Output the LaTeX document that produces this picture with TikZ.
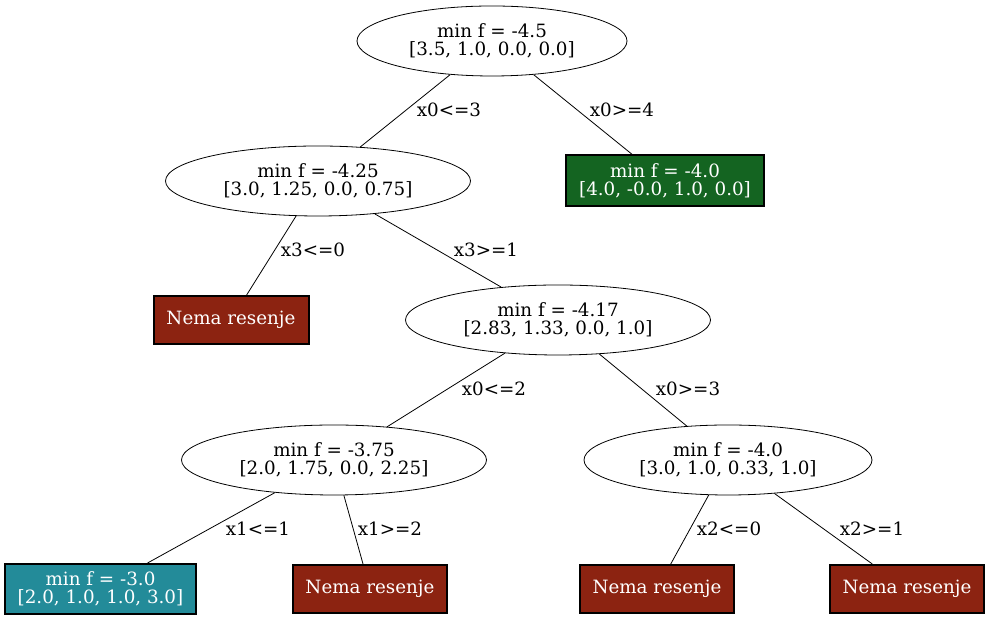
\documentclass[tikz,border=0pt]{standalone}
\usepackage{fontspec}
\usetikzlibrary{shapes.geometric}
\newfontfamily\dvs{DejaVu Serif}
\definecolor{nored}{RGB}{140,35,17}
\definecolor{okgreen}{RGB}{20,100,33}
\definecolor{okteal}{RGB}{35,139,153}
\tikzset{
  txt/.style={font=\dvs\fontsize{18.3}{18.5}\selectfont, align=center},
  ell/.style={txt, ellipse, draw, line width=0.8pt, minimum height=70pt, inner sep=0pt},
  box/.style={txt, rectangle, draw, line width=2pt, text=white, inner sep=0pt},
  lbl/.style={txt, inner sep=0pt},
  edge/.style={line width=0.8pt}
}
\begin{document}
\begin{tikzpicture}[x=1pt,y=1pt]
\useasboundingbox (0,0) rectangle (991,620);
\node[ell, minimum width=270pt] (root) at (492,579) {min f = -4.5\\{}[3.5, 1.0, 0.0, 0.0]};
\node[ell, minimum width=305pt] (n1) at (318,439) {min f = -4.25\\{}[3.0, 1.25, 0.0, 0.75]};
\node[box, fill=okgreen, minimum width=198pt, minimum height=51pt] (g1) at (665,439) {min f = -4.0\\{}[4.0, -0.0, 1.0, 0.0]};
\node[box, fill=nored, minimum width=155pt, minimum height=48pt] (r1) at (231,300) {Nema resenje};
\node[ell, minimum width=305pt] (n2) at (558,300) {min f = -4.17\\{}[2.83, 1.33, 0.0, 1.0]};
\node[ell, minimum width=305pt] (n3) at (334,160) {min f = -3.75\\{}[2.0, 1.75, 0.0, 2.25]};
\node[ell, minimum width=288pt] (n4) at (728,160) {min f = -4.0\\{}[3.0, 1.0, 0.33, 1.0]};
\node[box, fill=okteal, minimum width=191pt, minimum height=50pt] (t1) at (100.5,31) {min f = -3.0\\{}[2.0, 1.0, 1.0, 3.0]};
\node[box, fill=nored, minimum width=154pt, minimum height=48pt] (r2) at (370,31) {Nema resenje};
\node[box, fill=nored, minimum width=154pt, minimum height=48pt] (r3) at (657,31) {Nema resenje};
\node[box, fill=nored, minimum width=154pt, minimum height=48pt] (r4) at (907,31) {Nema resenje};
\draw[edge] (root) -- (n1);
\draw[edge] (root) -- (g1);
\draw[edge] (n1) -- (r1);
\draw[edge] (n1) -- (n2);
\draw[edge] (n2) -- (n3);
\draw[edge] (n2) -- (n4);
\draw[edge] (n3) -- (t1);
\draw[edge] (n3) -- (r2);
\draw[edge] (n4) -- (r3);
\draw[edge] (n4) -- (r4);
\node[lbl] (l1) at (449,510) {x0<=3};
\node[lbl] (l2) at (622,510) {x0>=4};
\node[lbl] (l3) at (313,370) {x3<=0};
\node[lbl] (l4) at (486,370) {x3>=1};
\node[lbl] (l5) at (494,231) {x0<=2};
\node[lbl] (l6) at (688,231) {x0>=3};
\node[lbl] (l7) at (258,91) {x1<=1};
\node[lbl] (l8) at (390,91) {x1>=2};
\node[lbl] (l9) at (729,91) {x2<=0};
\node[lbl] (l10) at (872,91) {x2>=1};
\end{tikzpicture}
\end{document}
